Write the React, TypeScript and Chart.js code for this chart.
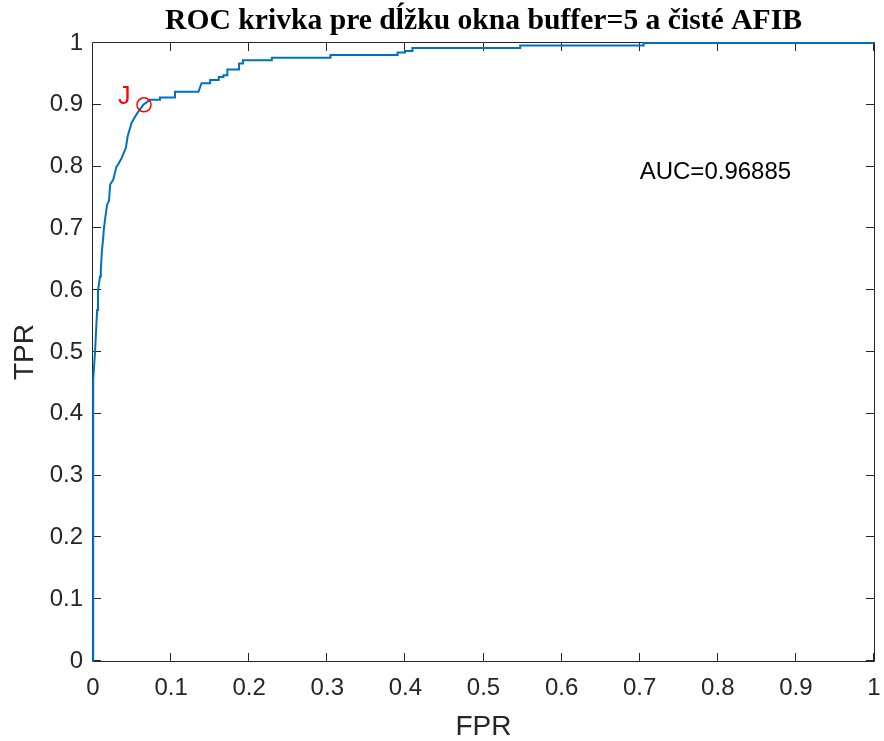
import React, { useEffect, useRef } from "react";
import { Chart, registerables } from "chart.js";

Chart.register(...registerables);

const titleText = "ROC krivka pre dĺžku okna buffer=5 a čisté AFIB";
const xLabel = "FPR";
const yLabel = "TPR";
const xTicks = [0, 0.1, 0.2, 0.3, 0.4, 0.5, 0.6, 0.7, 0.8, 0.9, 1];
const xTickLabels = ["0", "0.1", "0.2", "0.3", "0.4", "0.5", "0.6", "0.7", "0.8", "0.9", "1"];
const yTicks = [0, 0.1, 0.2, 0.3, 0.4, 0.5, 0.6, 0.7, 0.8, 0.9, 1];
const yTickLabels = ["0", "0.1", "0.2", "0.3", "0.4", "0.5", "0.6", "0.7", "0.8", "0.9", "1"];

// ROC curve
const fpr = [
  0, 0, 0.0005, 0.0026, 0.004, 0.0053, 0.0064, 0.009, 0.01, 0.0115, 0.0128, 0.014, 0.0154,
  0.018, 0.0205, 0.022, 0.026, 0.03, 0.032, 0.0367, 0.042, 0.0444, 0.0495, 0.054, 0.058,
  0.0644, 0.073, 0.0858, 0.0858, 0.105, 0.105, 0.135, 0.139, 0.15, 0.15, 0.161, 0.161,
  0.167, 0.167, 0.172, 0.172, 0.187, 0.187, 0.192, 0.192, 0.229, 0.229, 0.304, 0.304,
  0.39, 0.39, 0.3995, 0.3995, 0.409, 0.409, 0.547, 0.547, 0.705, 0.705, 1,
];
const tpr = [
  0, 0.4, 0.455, 0.5, 0.536, 0.568, 0.6, 0.622, 0.633, 0.665, 0.681, 0.7, 0.714,
  0.738, 0.745, 0.771, 0.779, 0.8, 0.803, 0.814, 0.83, 0.849, 0.871, 0.881, 0.889,
  0.9, 0.908, 0.908, 0.912, 0.912, 0.921, 0.921, 0.935, 0.935, 0.94, 0.94, 0.945,
  0.945, 0.948, 0.948, 0.957, 0.957, 0.967, 0.967, 0.972, 0.972, 0.976, 0.976, 0.9805,
  0.9805, 0.9845, 0.9845, 0.987, 0.987, 0.992, 0.992, 0.996, 0.996, 1, 1,
];

const optimalFpr = [0.0653];
const optimalTpr = [0.9];
const jLabel = "J";
const jLabelPos = [0.032, 0.912];
const aucLabel = "AUC=0.96885";
const aucLabelPos = [0.7, 0.79];

const AXIS_COLOR = "#262626";
const SANS = "'Liberation Sans', Arial, sans-serif";

const boxPlugin = {
  id: "matlabBox",
  beforeDatasetsDraw(chart: any) {
    const { ctx, chartArea } = chart;
    const { left, right, top, bottom } = chartArea;
    const xs = chart.scales.x;
    const ys = chart.scales.y;
    ctx.save();
    ctx.strokeStyle = AXIS_COLOR;
    ctx.lineWidth = 1;
    ctx.beginPath();
    ctx.rect(left - 0.5, top - 0.5, right - left + 1, bottom - top + 1);
    ctx.stroke();
    const tl = 8;
    ctx.beginPath();
    xTicks.forEach((v) => {
      const px = Math.round(xs.getPixelForValue(v)) - 0.5;
      ctx.moveTo(px, bottom);
      ctx.lineTo(px, bottom - tl);
      ctx.moveTo(px, top);
      ctx.lineTo(px, top + tl);
    });
    yTicks.forEach((v) => {
      const py = Math.round(ys.getPixelForValue(v)) - 0.5;
      ctx.moveTo(left, py);
      ctx.lineTo(left + tl, py);
      ctx.moveTo(right, py);
      ctx.lineTo(right - tl, py);
    });
    ctx.stroke();
    ctx.restore();
  },
  afterDatasetsDraw(chart: any) {
    const { ctx, chartArea } = chart;
    const xs = chart.scales.x;
    const ys = chart.scales.y;
    ctx.save();
    ctx.textBaseline = "middle";
    ctx.textAlign = "left";
    ctx.fillStyle = "#FF0000";
    ctx.font = `25px ${SANS}`;
    ctx.fillText(jLabel, xs.getPixelForValue(jLabelPos[0]), ys.getPixelForValue(jLabelPos[1]));
    ctx.fillStyle = "#000000";
    ctx.font = `24px ${SANS}`;
    ctx.fillText(aucLabel, xs.getPixelForValue(aucLabelPos[0]), ys.getPixelForValue(aucLabelPos[1]));
    const targetW = 637;
    let size = 28;
    ctx.font = `bold ${size}px 'Liberation Serif', 'Times New Roman', serif`;
    const w = ctx.measureText(titleText).width;
    size = (size * targetW) / w;
    ctx.font = `bold ${size}px 'Liberation Serif', 'Times New Roman', serif`;
    ctx.textAlign = "center";
    ctx.fillStyle = "#000000";
    ctx.fillText(titleText, (chartArea.left + chartArea.right) / 2, 21);
    ctx.restore();
  },
};

export default function App() {
  const canvasRef = useRef<HTMLCanvasElement | null>(null);

  useEffect(() => {
    const canvas = canvasRef.current;
    if (!canvas) return;
    const chart = new Chart(canvas, {
      type: "scatter",
      data: {
        datasets: [
          {
            data: fpr.map((x, i) => ({ x, y: tpr[i] })),
            showLine: true,
            borderColor: "#0072BD",
            backgroundColor: "#0072BD",
            borderWidth: 2,
            pointRadius: 0,
            tension: 0,
            clip: false as any,
            order: 2,
          },
          {
            data: optimalFpr.map((x, i) => ({ x, y: optimalTpr[i] })),
            showLine: false,
            pointStyle: "circle",
            pointRadius: 7,
            pointBorderWidth: 1.5,
            pointBorderColor: "#FF0000",
            pointBackgroundColor: "rgba(0,0,0,0)",
            borderColor: "#FF0000",
            clip: false as any,
            order: 1,
          },
        ],
      },
      options: {
        responsive: false,
        animation: false,
        events: [],
        layout: { padding: { top: 43, right: 10, bottom: 0, left: 0 } },
        plugins: {
          legend: { display: false },
          tooltip: { enabled: false },
          title: { display: false },
        },
        scales: {
          x: {
            type: "linear",
            min: 0,
            max: 1,
            afterBuildTicks: (s: any) => {
              s.ticks = xTicks.map((v) => ({ value: v }));
            },
            afterFit: (s: any) => {
              s.height = 80;
              s.paddingLeft = 0;
              s.paddingRight = 0;
            },
            ticks: {
              autoSkip: false,
              maxRotation: 0,
              padding: 13,
              color: AXIS_COLOR,
              font: { family: SANS, size: 24 },
              callback: (_v: any, i: number) => xTickLabels[i],
            },
            grid: { display: false, drawTicks: false },
            border: { display: false },
            title: {
              display: true,
              text: xLabel,
              color: AXIS_COLOR,
              font: { family: SANS, size: 28 },
              padding: { top: 0, bottom: -3 },
            },
          },
          y: {
            type: "linear",
            min: 0,
            max: 1,
            afterBuildTicks: (s: any) => {
              s.ticks = yTicks.map((v) => ({ value: v }));
            },
            afterFit: (s: any) => {
              s.width = 93;
              s.paddingTop = 0;
              s.paddingBottom = 0;
            },
            ticks: {
              autoSkip: false,
              padding: 10,
              color: AXIS_COLOR,
              font: { family: SANS, size: 24 },
              callback: (_v: any, i: number) => yTickLabels[i],
            },
            grid: { display: false, drawTicks: false },
            border: { display: false },
            title: {
              display: true,
              text: yLabel,
              color: AXIS_COLOR,
              font: { family: SANS, size: 28 },
              padding: { top: 8, bottom: 0 },
            },
          },
        },
      },
      plugins: [boxPlugin],
    });
    return () => chart.destroy();
  }, []);

  return (
    <div style={{ position: "absolute", left: 0, top: 0, width: 884, height: 741, background: "#fff" }}>
      <canvas ref={canvasRef} width={884} height={741} style={{ width: 884, height: 741 }} />
    </div>
  );
}
